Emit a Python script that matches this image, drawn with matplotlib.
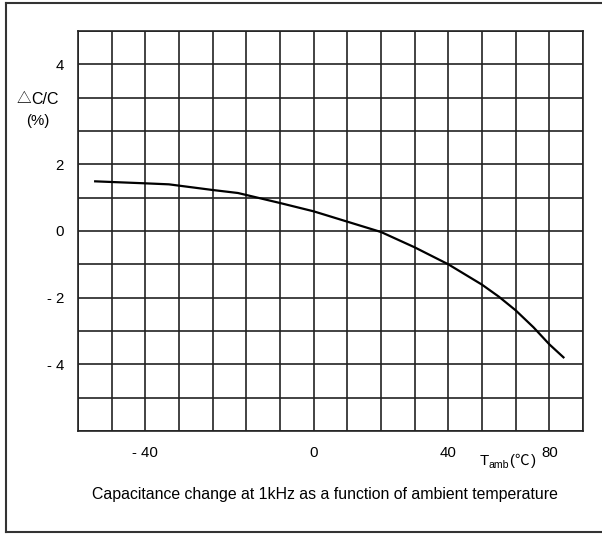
import numpy as np
import matplotlib
matplotlib.use("Agg")
import matplotlib.pyplot as plt
from matplotlib.lines import Line2D

plt.rcParams['font.family'] = ['Liberation Sans', 'DejaVu Sans']

# Curve (x in chart units, 10 per grid column, 0 at the "0" label)
temp = [-64.9, -60, -50, -43, -30, -22.5, -20, -10, 0, 10, 20, 30, 40, 50, 55, 60, 65.3, 70, 74.2]
dcc = [1.49, 1.47, 1.43, 1.40, 1.23, 1.14, 1.08, 0.84, 0.59, 0.28, -0.03, -0.49,
       -1.0, -1.61, -1.97, -2.38, -2.89, -3.40, -3.79]

# grid and labels as printed in the original
x_grid = np.arange(-70, 81, 10)
y_grid = np.arange(-6, 7, 1)
x_label_pos = [-50, 0, 40, 70]
x_labels = ['- 40', '0', '40', '80']
y_label_pos = [5, 2, 0, -2, -4]
y_labels = ['4', '2', '0', '- 2', '- 4']

W, H = 602, 534
fig = plt.figure(figsize=(W / 100, H / 100), dpi=100)
ax = fig.add_axes([78 / W, 1 - 431 / H, (583 - 78) / W, (431 - 31) / H])

for xv in x_grid:
    ax.axvline(xv, color='#222222', lw=1.2, zorder=1)
for yv in y_grid:
    ax.axhline(yv, color='#222222', lw=1.2, zorder=1)

ax.plot(temp, dcc, color='black', lw=1.6, zorder=3)

ax.set_xlim(-70, 80)
ax.set_ylim(-6, 6)
ax.set_xticks(x_label_pos)
ax.set_xticklabels(x_labels)
ax.set_yticks(y_label_pos)
ax.set_yticklabels(y_labels)
ax.tick_params(length=0, labelsize=10.8, pad=11)
ax.tick_params(axis='y', pad=10)
for s in ax.spines.values():
    s.set_color('#222222')
    s.set_linewidth(1.2)

# axis titles
fig.text(17 / W, 1 - 99 / H, '\u25b3', fontsize=10.5, ha='left', va='center',
         family=['Noto Sans CJK SC', 'DejaVu Sans'])
fig.text(31.5 / W, 1 - 99 / H, 'C/C', fontsize=11.5, ha='left', va='center')
fig.text(38 / W, 1 - 121 / H, '(%)', fontsize=10.8, ha='center', va='center')
fig.text(480 / W, 1 - 461 / H, 'T', fontsize=10.8, ha='left', va='center')
fig.text(488.5 / W, 1 - 465 / H, 'amb', fontsize=7.6, ha='left', va='center')
fig.text(509.5 / W, 1 - 461 / H, '(', fontsize=10.8, ha='left', va='center')
fig.text(514 / W, 1 - 461 / H, '\u2103', fontsize=10.5, ha='left', va='center',
         family=['Noto Sans CJK SC', 'DejaVu Sans'])
fig.text(531 / W, 1 - 461 / H, ')', fontsize=10.8, ha='left', va='center')

fig.text(325 / W, 1 - 495 / H, 'Capacitance change at 1kHz as a function of ambient temperature',
         fontsize=11.4, ha='center', va='center')

# outer frame
fig.add_artist(Line2D([6 / W, 6 / W], [1 - 3 / H, 1 - 532 / H], color='#333333', lw=1.5))
fig.add_artist(Line2D([6 / W, 1], [1 - 3 / H, 1 - 3 / H], color='#333333', lw=1.5))
fig.add_artist(Line2D([6 / W, 1], [1 - 532 / H, 1 - 532 / H], color='#333333', lw=1.5))

fig.savefig('out.png', dpi=100)
